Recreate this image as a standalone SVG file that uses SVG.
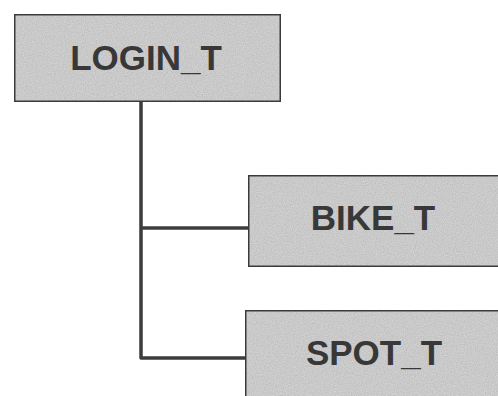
<svg xmlns="http://www.w3.org/2000/svg" width="498" height="396" viewBox="0 0 498 396">
  <defs>
    <filter id="grain" x="0" y="0" width="100%" height="100%">
      <feTurbulence type="fractalNoise" baseFrequency="0.9" numOctaves="2" seed="3" result="n"/>
      <feColorMatrix in="n" type="matrix" values="0 0 0 0 0  0 0 0 0 0  0 0 0 0 0  0 0 0 0.35 -0.05" result="a"/>
      <feComposite in="a" in2="SourceGraphic" operator="in" result="g"/>
      <feMerge><feMergeNode in="SourceGraphic"/><feMergeNode in="g"/></feMerge>
    </filter>
  </defs>
  <style>
    .box { fill: #d6d6d6; stroke: #404040; stroke-width: 3; }
    .lbl { font-family: "Liberation Sans", Arial, sans-serif; font-weight: bold; font-size: 35px; fill: #383838; text-anchor: middle; }
    .conn { fill: none; stroke: #3c3c3c; stroke-width: 3.5; stroke-linejoin: round; }
  </style>
  <rect width="498" height="396" fill="#ffffff"/>
  <g id="connectors">
    <path class="conn" d="M141 102 V358 H246"/>
    <path class="conn" d="M141 228 H248"/>
  </g>
  <g id="login_t">
    <rect class="box" x="14" y="14" width="267" height="88" filter="url(#grain)"/>
    <text class="lbl" x="146" y="70">LOGIN_T</text>
  </g>
  <g id="bike_t">
    <rect class="box" x="248" y="175" width="260" height="92" filter="url(#grain)"/>
    <text class="lbl" x="373" y="230">BIKE_T</text>
  </g>
  <g id="spot_t">
    <rect class="box" x="245" y="310" width="263" height="100" filter="url(#grain)"/>
    <text class="lbl" x="374" y="365">SPOT_T</text>
  </g>
</svg>
